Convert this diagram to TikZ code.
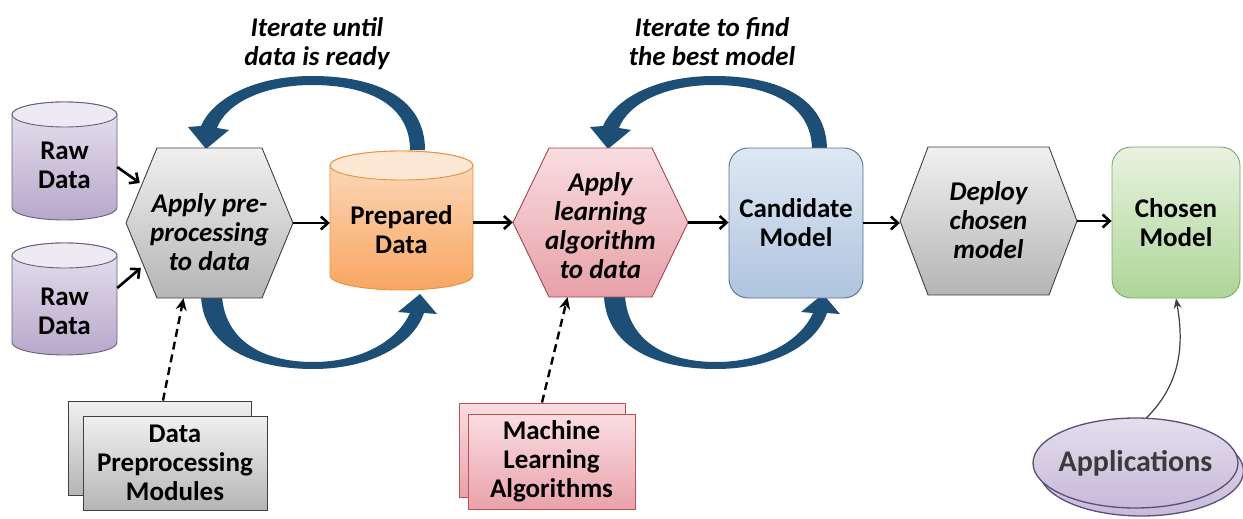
\documentclass[tikz,border=0pt]{standalone}
\usepackage{fontspec}
\setmainfont{Carlito}
\usetikzlibrary{arrows.meta,calc,shapes.geometric}
\definecolor{arcblue}{HTML}{1D4F76}
\definecolor{rawT}{HTML}{E8E3EF}\definecolor{rawB}{HTML}{B6A8CB}\definecolor{rawE}{HTML}{EEEAF3}\definecolor{rawD}{HTML}{6B5B80}
\definecolor{prepT}{HTML}{FCDCC0}\definecolor{prepB}{HTML}{F8A661}\definecolor{prepE}{HTML}{FDE8D6}\definecolor{prepD}{HTML}{E8913A}
\definecolor{grayT}{HTML}{F0F0F0}\definecolor{grayB}{HTML}{B5B5B5}\definecolor{grayD}{HTML}{404040}
\definecolor{pinkT}{HTML}{F9DDE0}\definecolor{pinkB}{HTML}{E7A0A8}\definecolor{pinkD}{HTML}{A4454C}
\definecolor{candT}{HTML}{DFE8F3}\definecolor{candB}{HTML}{AFC4DF}\definecolor{candD}{HTML}{55728F}
\definecolor{chosT}{HTML}{E8F3E0}\definecolor{chosB}{HTML}{ADD597}\definecolor{chosD}{HTML}{7CA865}
\definecolor{mlT}{HTML}{FADDE1}\definecolor{mlB}{HTML}{E9A2AB}\definecolor{mlD}{HTML}{C0504D}
\definecolor{appT}{HTML}{E4DEED}\definecolor{appB}{HTML}{C7BAD9}\definecolor{appD}{HTML}{5D4C78}
\definecolor{appText}{HTML}{3A3A3A}

% hexagon outline: cx, cy, halfwidth, halfheight, indent, style
\newcommand{\hexshape}[6]{%
  \path[#6] (#1-#3,-#2) -- (#1-#3+#5,-#2+#4) -- (#1+#3-#5,-#2+#4) -- (#1+#3,-#2)
     -- (#1+#3-#5,-#2-#4) -- (#1-#3+#5,-#2-#4) -- cycle;}
% ellipse by four bezier quarters: cx, cy(px, down), rx, ry, style
\newcommand{\bezell}[5]{%
  \path[#5] (#1+#3,-#2) .. controls (#1+#3,-#2+0.5523*#4) and (#1+0.5523*#3,-#2+#4) .. (#1,-#2+#4)
     .. controls (#1-0.5523*#3,-#2+#4) and (#1-#3,-#2+0.5523*#4) .. (#1-#3,-#2)
     .. controls (#1-#3,-#2-0.5523*#4) and (#1-0.5523*#3,-#2-#4) .. (#1,-#2-#4)
     .. controls (#1+0.5523*#3,-#2-#4) and (#1+#3,-#2-0.5523*#4) .. (#1+#3,-#2) -- cycle;}
% cylinder: name, cx, ytop, ybottom, rx, ry, style prefix, node options
\newcommand{\cylnode}[8]{%
  \path[#7body] (#2-#5,-#3) -- (#2-#5,-#4) arc[start angle=180,end angle=360,x radius=#5,y radius=#6]
     -- (#2+#5,-#3) arc[start angle=0,end angle=180,x radius=#5,y radius=#6] -- cycle;
  \path[#7top] (#2,-#3) ellipse[x radius=#5,y radius=#6];
  \node[minimum width=2*#5, minimum height=#4-#3+2*#6, inner sep=0pt, #8] (#1) at (#2,-#3/2-#4/2) {};}

\begin{document}
\begin{tikzpicture}[x=1pt,y=1pt,
  lbl/.style={font=\fontsize{27}{29}\selectfont\bfseries, align=center, inner sep=0pt, text=black},
  ilbl/.style={font=\fontsize{27}{29}\selectfont\bfseries\itshape, align=center, inner sep=0pt, text=black},
  flow/.style={line width=2.6pt, -{Straight Barb[length=7pt,width=13pt]}},
  dasharrow/.style={line width=2.4pt, dash pattern=on 8pt off 5pt, -{Stealth[length=12pt,width=11pt]}},
  bluearc/.style={fill=arcblue, draw=none},
  rawbody/.style={top color=rawT, bottom color=rawB, draw=rawD, line width=0.9pt},
  rawtop/.style={fill=rawE, draw=rawD, line width=0.9pt},
  prepbody/.style={top color=prepT, bottom color=prepB, draw=prepD, line width=0.9pt},
  preptop/.style={fill=prepE, draw=prepD, line width=0.9pt},
  grayhex/.style={top color=grayT, bottom color=grayB, draw=grayD, line width=0.9pt},
  pinkhex/.style={top color=pinkT, bottom color=pinkB, draw=pinkD, line width=0.9pt},
  appshape/.style={top color=appT, bottom color=appB, draw=appD, line width=1.3pt},
  hexnode/.style={rectangle, inner sep=0pt},
  roundbox/.style={rectangle, rounded corners=19pt, line width=0.9pt, inner sep=0pt},
  graybox/.style={rectangle, top color=grayT, bottom color=grayB, draw=grayD, line width=0.9pt, inner sep=0pt},
  mlbox/.style={rectangle, top color=mlT, bottom color=mlB, draw=mlD, line width=0.9pt, inner sep=0pt}
]
\useasboundingbox (0,0) rectangle (1243,-519);

% ---------- big iteration arcs (behind shapes) ----------
\path[bluearc] (425,-150) .. controls (425,-100) and (380,-76) .. (312,-76)
   .. controls (252,-76) and (212,-100) .. (201,-126)
   -- (188,-127) -- (206,-149) -- (229,-130) -- (217,-128)
   .. controls (226,-104) and (262,-85) .. (312,-85)
   .. controls (370,-85) and (410,-106) .. (410,-150) -- cycle;
\begin{scope}[xshift=402pt]
\path[bluearc] (425,-150) .. controls (425,-100) and (380,-76) .. (312,-76)
   .. controls (252,-76) and (212,-100) .. (201,-126)
   -- (188,-127) -- (206,-149) -- (229,-130) -- (217,-128)
   .. controls (226,-104) and (262,-85) .. (312,-85)
   .. controls (370,-85) and (410,-106) .. (410,-150) -- cycle;
\end{scope}
\path[bluearc] (201,-296) .. controls (203,-345) and (250,-369) .. (313,-369)
   .. controls (370,-369) and (413,-345) .. (424,-313)
   -- (437,-314) -- (420,-294) -- (398,-312) -- (410,-313)
   .. controls (398,-340) and (362,-362) .. (313,-362)
   .. controls (262,-362) and (225,-340) .. (222,-296) -- cycle;
\begin{scope}[xshift=403pt]
\path[bluearc] (201,-296) .. controls (203,-345) and (250,-369) .. (313,-369)
   .. controls (370,-369) and (413,-345) .. (424,-313)
   -- (437,-314) -- (420,-294) -- (398,-312) -- (410,-313)
   .. controls (398,-340) and (362,-362) .. (313,-362)
   .. controls (262,-362) and (225,-340) .. (222,-296) -- cycle;
\end{scope}

\node[ilbl] (iter1) at (317,-44) {Iterate until\\data is ready};
\node[ilbl] (iter2) at (712,-42) {Iterate to find\\the best model};

% ---------- cylinders ----------
\cylnode{raw1}{64.5}{114.5}{207.5}{52.5}{12.5}{raw}{label={[lbl,yshift=-4.5pt]center:Raw\\Data}}
\cylnode{raw2}{64.5}{255.5}{342.5}{52.5}{12.5}{raw}{label={[lbl,yshift=-12.5pt]center:Raw\\Data}}
\cylnode{prep}{401.5}{165.5}{275.5}{71.5}{14.5}{prep}{label={[lbl,yshift=-9pt]center:Prepared\\Data}}

% ---------- hexagons ----------
\hexshape{209.5}{223}{83.5}{75}{31}{grayhex}
\node[hexnode, minimum width=167, minimum height=150,
  label={[ilbl,yshift=-9.5pt]center:Apply pre-\\processing\\to data}] (hex1) at (209.5,-223) {};
\hexshape{600.5}{222.5}{87.5}{74.5}{36}{pinkhex}
\node[hexnode, minimum width=175, minimum height=149,
  label={[ilbl,yshift=-3.5pt]center:Apply\\learning\\algorithm\\to data}] (hex2) at (600.5,-222.5) {};
\hexshape{988.5}{221}{88.5}{74}{28}{grayhex}
\node[hexnode, minimum width=177, minimum height=148,
  label={[ilbl,yshift=1pt]center:Deploy\\chosen\\model}] (deploy) at (988.5,-221) {};

% ---------- model boxes ----------
\node[roundbox, top color=candT, bottom color=candB, draw=candD, minimum width=134, minimum height=150, lbl]
  (cand) at (796,-223) {Candidate\\Model};
\node[roundbox, top color=chosT, bottom color=chosB, draw=chosD, minimum width=128, minimum height=151, lbl]
  (chosen) at (1176,-222.5) {Chosen\\Model};

% ---------- stacked module boxes ----------
\node[graybox, minimum width=183, minimum height=94] (dpmback) at (159.5,-448) {};
\node[graybox, minimum width=184, minimum height=94, lbl] (dpm) at (175,-463) {Data\\Preprocessing\\Modules};
\node[mlbox, minimum width=166, minimum height=94] (mlback) at (542,-450) {};
\node[mlbox, minimum width=167, minimum height=95, lbl] (ml) at (551.5,-461.5) {Machine\\Learning\\Algorithms};

% ---------- applications ----------
\bezell{1141.5}{471}{102}{45}{appshape}
\bezell{1135.5}{463}{102.5}{45}{appshape}
\node[rectangle, inner sep=0pt, minimum width=205, minimum height=90,
  font=\fontsize{30}{34}\selectfont\bfseries, text=appText] (apps) at (1135.5,-463) {Applications};

% ---------- connectors ----------
\draw[flow] ([yshift=-6pt]raw1.east) -- ([shift={(14,40)}]hex1.west);
\draw[flow] ([yshift=11pt]raw2.east) -- ([shift={(15,-45)}]hex1.west);
\draw[flow] (hex1.east) -- (hex1.east -| prep.west);
\draw[flow] (prep.east |- hex2.west) -- (hex2.west);
\draw[flow] (hex2.east) -- (hex2.east -| cand.west);
\draw[flow] (cand.east) -- (cand.east -| deploy.west);
\draw[flow] (deploy.east) -- (deploy.east -| chosen.west);
\draw[dasharrow] ([xshift=3.5pt]dpmback.north) -- ([xshift=-26pt]hex1.south);
\draw[dasharrow] (mlback.north) -- ([xshift=-33pt]hex2.south);
\draw[draw=grayD, line width=1.2pt, -{Stealth[length=10pt,width=8pt]}] ([xshift=11pt]apps.north) to[out=45,in=-80] (chosen.south);
\end{tikzpicture}
\end{document}
